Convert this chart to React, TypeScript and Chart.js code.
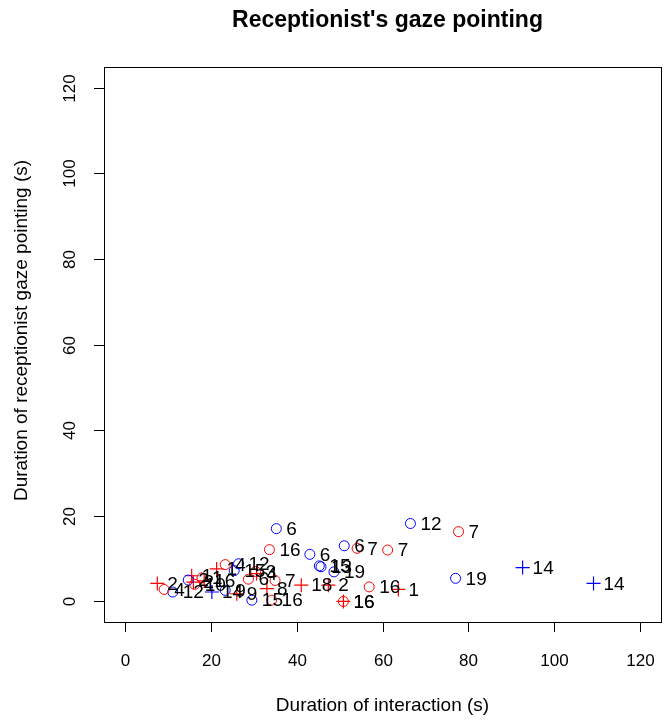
import { useEffect, useRef } from "react";
import { Chart, registerables } from "chart.js";

Chart.register(...registerables);

// Red circles
const redCircleX = [9.2, 16.3, 18.0, 23.4, 28.8, 30.5, 33.7, 34.2, 35.0, 50.9, 54.1, 56.9, 61.2, 77.7];
const redCircleY = [2.8, 4.0, 5.5, 8.6, 5.2, 7.0, 12.1, 0.3, 4.9, 0.0, 12.4, 3.4, 12.0, 16.3];
const redCircleLabels = ["4", "10", "1", "4", "6", "3", "16", "16", "7", "16", "7", "16", "7", "7"];

// Blue circles
const blueCircleX = [11.2, 14.8, 23.4, 25.5, 26.5, 29.6, 35.3, 43.1, 45.3, 45.7, 48.7, 51.1, 66.5, 77.0];
const blueCircleY = [2.2, 5.0, 2.6, 7.2, 8.8, 0.3, 17.0, 11.0, 8.3, 8.1, 6.9, 13.0, 18.2, 5.4];
const blueCircleLabels = ["12", "2", "9", "15", "12", "15", "6", "6", "15", "13", "19", "6", "12", "19"];

// Red crosses
const redPlusX = [7.6, 15.6, 16.0, 18.5, 21.4, 26.1, 30.7, 33.1, 41.1, 47.4, 50.9, 63.7];
const redPlusY = [4.2, 6.0, 4.5, 4.8, 7.6, 1.8, 6.5, 3.0, 3.8, 3.8, 0.0, 2.8];
const redPlusLabels = ["2", "1", "2", "16", "1", "9", "4", "8", "18", "2", "16", "1"];

// Blue crosses
const bluePlusX = [20.3, 92.6, 109.1];
const bluePlusY = [2.2, 7.9, 4.2];
const bluePlusLabels = ["14", "14", "14"];

const xTicks = [0, 20, 40, 60, 80, 100, 120];
const yTicks = [0, 20, 40, 60, 80, 100, 120];

const titleText = "Receptionist's gaze pointing";
const xTitle = "Duration of interaction (s)";
const yTitle = "Duration of receptionist gaze pointing (s)";

const FONT = '"Liberation Sans", Arial, Helvetica, sans-serif';

const toPoints = (xs: number[], ys: number[]) => xs.map((x, i) => ({ x, y: ys[i] }));

const pointLabels = [redCircleLabels, blueCircleLabels, redPlusLabels, bluePlusLabels];

const baseAxesPlugin = {
  id: "baseAxes",
  afterDatasetsDraw(chart: any) {
    const { ctx, chartArea, scales } = chart;
    const xs = scales.x;
    const ys = scales.y;
    const { left, right, top, bottom } = chartArea;
    ctx.save();

    // point labels, to the right of each mark
    ctx.fillStyle = "#000";
    ctx.font = `19px ${FONT}`;
    ctx.textAlign = "left";
    ctx.textBaseline = "middle";
    chart.data.datasets.forEach((ds: any, di: number) => {
      const labels = pointLabels[di];
      ds.data.forEach((p: any, i: number) => {
        const px = xs.getPixelForValue(p.x);
        const py = ys.getPixelForValue(p.y);
        ctx.fillText(labels[i], px + 10, py + 1);
      });
    });

    // plot box
    ctx.strokeStyle = "#000";
    ctx.lineWidth = 1;
    ctx.strokeRect(Math.round(left) + 0.5, Math.round(top) + 0.5, Math.round(right - left), Math.round(bottom - top));

    // x axis ticks
    ctx.font = `17px ${FONT}`;
    ctx.textAlign = "center";
    ctx.textBaseline = "middle";
    xTicks.forEach((v) => {
      const px = Math.round(xs.getPixelForValue(v)) + 0.5;
      ctx.beginPath();
      ctx.moveTo(px, bottom);
      ctx.lineTo(px, bottom + 10);
      ctx.stroke();
      ctx.fillText(String(v), px, bottom + 39);
    });

    // y axis ticks (labels parallel to the axis)
    yTicks.forEach((v) => {
      const py = Math.round(ys.getPixelForValue(v)) + 0.5;
      ctx.beginPath();
      ctx.moveTo(left, py);
      ctx.lineTo(left - 10, py);
      ctx.stroke();
      ctx.save();
      ctx.translate(left - 34, py);
      ctx.rotate(-Math.PI / 2);
      ctx.fillText(String(v), 0, 0);
      ctx.restore();
    });

    // axis titles
    ctx.font = `19px ${FONT}`;
    ctx.fillText(xTitle, (left + right) / 2, bottom + 84);
    ctx.save();
    ctx.translate(left - 82, (top + bottom) / 2 - 14);
    ctx.rotate(-Math.PI / 2);
    ctx.fillText(yTitle, 0, 0);
    ctx.restore();

    // main title
    ctx.font = `bold 23px ${FONT}`;
    ctx.fillText(titleText, (left + right) / 2 + 5, 21);

    ctx.restore();
  },
};

export default function App() {
  const canvasRef = useRef<HTMLCanvasElement | null>(null);

  useEffect(() => {
    document.body.style.margin = "0";
    const canvas = canvasRef.current;
    if (!canvas) return;
    const chart = new Chart(canvas, {
      type: "scatter",
      data: {
        datasets: [
          {
            data: toPoints(redCircleX, redCircleY),
            pointStyle: "circle",
            pointRadius: 5,
            borderColor: "#ff0000",
            backgroundColor: "rgba(0,0,0,0)",
            borderWidth: 1,
          },
          {
            data: toPoints(blueCircleX, blueCircleY),
            pointStyle: "circle",
            pointRadius: 5,
            borderColor: "#0000ff",
            backgroundColor: "rgba(0,0,0,0)",
            borderWidth: 1,
          },
          {
            data: toPoints(redPlusX, redPlusY),
            pointStyle: "cross",
            pointRadius: 7,
            borderColor: "#ff0000",
            backgroundColor: "#ff0000",
            borderWidth: 1.2,
          },
          {
            data: toPoints(bluePlusX, bluePlusY),
            pointStyle: "cross",
            pointRadius: 7,
            borderColor: "#0000ff",
            backgroundColor: "#0000ff",
            borderWidth: 1.2,
          },
        ],
      },
      options: {
        responsive: false,
        animation: false,
        devicePixelRatio: 1,
        layout: { padding: { left: 104, right: 10, top: 67, bottom: 98 } },
        scales: {
          x: { type: "linear", min: -4.8, max: 124.8, display: false },
          y: { type: "linear", min: -4.8, max: 124.8, display: false },
        },
        plugins: {
          legend: { display: false },
          tooltip: { enabled: false },
        },
        events: [],
      },
      plugins: [baseAxesPlugin],
    });
    return () => chart.destroy();
  }, []);

  return <canvas ref={canvasRef} width={671} height={720} style={{ display: "block" }} />;
}
